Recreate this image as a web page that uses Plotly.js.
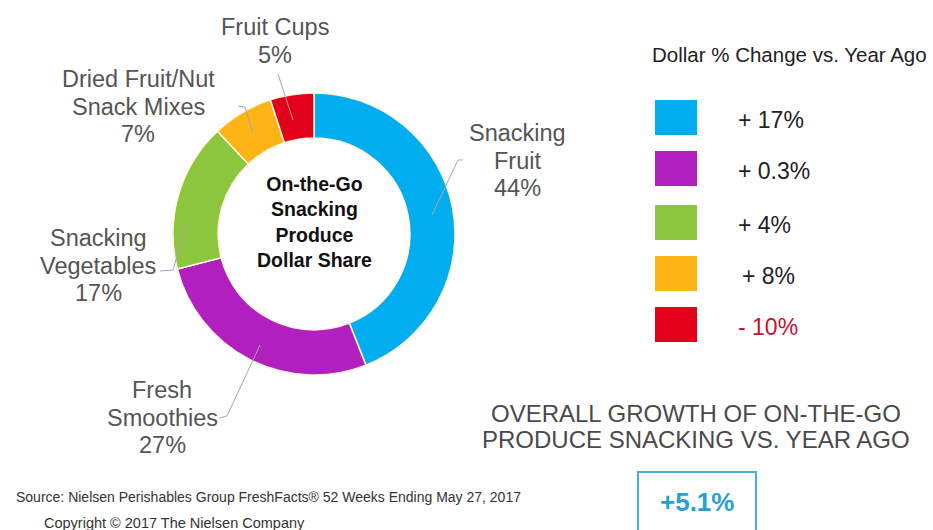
<!DOCTYPE html>
<html>
<head>
<meta charset="utf-8">
<script src="https://cdn.plot.ly/plotly-3.0.1.min.js"></script>
<style>html,body{margin:0;padding:0;background:#fff;}#chart{width:933px;height:530px;}</style>
</head>
<body>
<div id="chart"></div>
<script>
// ---- data ----
var categories = ["Snacking Fruit", "Fresh Smoothies", "Snacking Vegetables", "Dried Fruit/Nut Snack Mixes", "Fruit Cups"];
var labelLines = [["Snacking", "Fruit"], ["Fresh", "Smoothies"], ["Snacking", "Vegetables"], ["Dried Fruit/Nut", "Snack Mixes"], ["Fruit Cups"]];
var dollarShare = [44, 27, 17, 7, 5];
var changeVsYearAgo = ["+ 17%", "+ 0.3%", "+ 4%", "+ 8%", "- 10%"];
var overallGrowth = "+5.1%";
var centerTitle = "On-the-Go<br>Snacking<br>Produce<br>Dollar Share";
var legendTitle = "Dollar % Change vs. Year Ago";
var growthTitleLines = ["OVERALL GROWTH OF ON-THE-GO", "PRODUCE SNACKING VS. YEAR AGO"];
var sourceText = "Source: Nielsen Perishables Group FreshFacts® 52 Weeks Ending May 27, 2017";
var copyrightText = "Copyright © 2017 The Nielsen Company";

// ---- styles ----
var colors = ["#00aeef", "#b11fbf", "#8cc63f", "#fdb414", "#e2001a"];
var W = 933, H = 530;
function px(x){ return x / W; }
function py(y){ return 1 - y / H; }

// label positions: center x and first line y (pixel), leader line paths (pixel)
var labelPos = [
  {x: 517, y: 133},
  {x: 162, y: 390},
  {x: 98,  y: 238},
  {x: 138, y: 79},
  {x: 275, y: 27}
];
var lineGap = 27.5;
var leaders = [
  [[463,160],[458,160],[432,215]],
  [[219,418],[227,416],[260,345]],
  [[160,271],[173,270],[186,225]],
  [[238,106],[245,107],[253,133]],
  [[278,74],[293,120]]
];

var annotations = [];
var shapes = [];

categories.forEach(function(c, i){
  var lines = labelLines[i].concat([dollarShare[i] + '%']);
  lines.forEach(function(t, k){
    annotations.push({
      xref:'paper', yref:'paper', x: px(labelPos[i].x), y: py(labelPos[i].y + k * lineGap),
      xanchor:'center', yanchor:'middle', showarrow:false, align:'center',
      text: t,
      font:{family:'Liberation Sans, Arial, sans-serif', size:23.5, color:'#555555'}
    });
  });
  var pts = leaders[i];
  var d = 'M ' + px(pts[0][0]) + ' ' + py(pts[0][1]);
  for (var k = 1; k < pts.length; k++) d += ' L ' + px(pts[k][0]) + ' ' + py(pts[k][1]);
  shapes.push({type:'path', xref:'paper', yref:'paper', path:d, line:{color:'#a8a8a8', width:1}});
});

// center title
annotations.push({
  xref:'paper', yref:'paper', x: px(314), y: py(222), xanchor:'center', yanchor:'middle',
  showarrow:false, align:'center', text:'<b>' + centerTitle + '</b>',
  font:{family:'Liberation Sans, Arial, sans-serif', size:19.5, color:'#111111'}
});

// legend title
annotations.push({
  xref:'paper', yref:'paper', x: px(789), y: py(55), xanchor:'center', yanchor:'middle',
  showarrow:false, text: legendTitle,
  font:{family:'Liberation Sans, Arial, sans-serif', size:20.5, color:'#222222'}
});

// legend swatches and texts
var rowTop = [100, 151, 205, 256, 307];
changeVsYearAgo.forEach(function(t, i){
  shapes.push({type:'rect', xref:'paper', yref:'paper',
    x0: px(655), x1: px(697), y0: py(rowTop[i]), y1: py(rowTop[i] + 35),
    fillcolor: colors[i], line:{width:0}});
  annotations.push({
    xref:'paper', yref:'paper', x: px(i === 3 ? 740 : 736), y: py(rowTop[i] + 20),
    xanchor:'left', yanchor:'middle', showarrow:false, text: t,
    font:{family:'Liberation Sans, Arial, sans-serif', size:23, color: (t.charAt(0) === '-' ? '#c8102e' : '#222222')}
  });
});

// overall growth heading
var growthY = [413, 439];
growthTitleLines.forEach(function(t, i){
  annotations.push({
    xref:'paper', yref:'paper', x: px(696), y: py(growthY[i]), xanchor:'center', yanchor:'middle',
    showarrow:false, text: t,
    font:{family:'Liberation Sans, Arial, sans-serif', size:24, color:'#4a4a4a'}
  });
});

// growth box
shapes.push({type:'rect', xref:'paper', yref:'paper',
  x0: px(638), x1: px(756), y0: py(472), y1: py(540),
  line:{color:'#45b0e0', width:2}, fillcolor:'rgba(0,0,0,0)'});
annotations.push({
  xref:'paper', yref:'paper', x: px(697), y: py(502), xanchor:'center', yanchor:'middle',
  showarrow:false, text:'<b>' + overallGrowth + '</b>',
  font:{family:'Liberation Sans, Arial, sans-serif', size:26, color:'#2a9fd6'}
});

// source and copyright
annotations.push({
  xref:'paper', yref:'paper', x: px(14), y: py(497), xanchor:'left', yanchor:'middle',
  showarrow:false, text: sourceText,
  font:{family:'Liberation Sans, Arial, sans-serif', size:14, color:'#333333'}
});
annotations.push({
  xref:'paper', yref:'paper', x: px(42), y: py(523), xanchor:'left', yanchor:'middle',
  showarrow:false, text: copyrightText,
  font:{family:'Liberation Sans, Arial, sans-serif', size:14.5, color:'#333333'}
});

var trace = {
  type:'pie',
  labels: categories,
  values: dollarShare,
  hole: 0.68,
  sort: false,
  direction: 'clockwise',
  rotation: 0,
  textinfo: 'none',
  hoverinfo: 'label+percent',
  marker: {colors: colors, line:{color:'#fff6e0', width:1.5}},
  domain: {x:[px(173), px(455)], y:[py(375), py(93)]},
  showlegend: false
};

var layout = {
  width: W, height: H,
  margin:{l:0, r:0, t:0, b:0},
  paper_bgcolor:'#ffffff',
  plot_bgcolor:'#ffffff',
  showlegend:false,
  annotations: annotations,
  shapes: shapes
};

Plotly.newPlot('chart', [trace], layout, {displayModeBar:false, staticPlot:true});
</script>
</body>
</html>
